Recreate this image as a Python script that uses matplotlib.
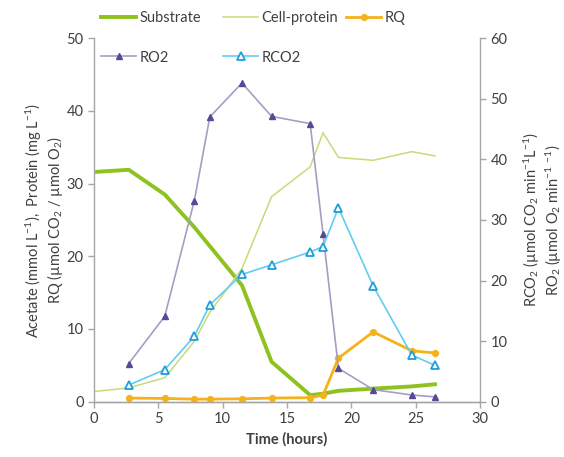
import matplotlib
matplotlib.use("Agg")
import matplotlib.pyplot as plt
from matplotlib.lines import Line2D

plt.rcParams['font.family'] = ['Lato', 'DejaVu Sans']
plt.rcParams['mathtext.fontset'] = 'custom'
plt.rcParams['mathtext.rm'] = 'Lato'
plt.rcParams['mathtext.it'] = 'Lato:italic'
plt.rcParams['mathtext.bf'] = 'Lato:bold'

# ---- data ----
t_all = [0, 2.7, 5.5, 7.8, 9.0, 11.5, 13.8, 16.8, 17.8, 19.0, 21.7, 24.7, 26.5]
substrate = [31.6, 31.9, 28.5, 24.0, 21.4, 16.0, 5.5, 0.9, 1.1, 1.5, 1.8, 2.1, 2.4]
cell_protein = [1.4, 1.9, 3.3, 8.3, 12.3, 18.3, 28.2, 32.3, 37.0, 33.6, 33.2, 34.4, 33.8]

t_r = [2.7, 5.5, 7.8, 9.0, 11.5, 13.8, 16.8, 17.8, 19.0, 21.7, 24.7, 26.5]
rq = [0.5, 0.45, 0.35, 0.35, 0.4, 0.5, 0.55, 0.9, 6.0, 9.6, 7.0, 6.7]
ro2 = [6.3, 14.1, 33.2, 47.0, 52.6, 47.1, 45.9, 27.7, 5.5, 2.0, 1.1, 0.8]
rco2 = [2.75, 5.3, 10.8, 16.0, 21.0, 22.6, 24.7, 25.6, 32.0, 19.1, 7.7, 6.0]

labels = ["Substrate", "Cell-protein", "RQ", "RO2", "RCO2"]

c_sub = "#8DC21F"
c_prot = "#C8DA78"
c_rq = "#F5B21A"
c_ro2_line = "#A39FC4"
c_ro2_mk = "#564A96"
c_rco2_line = "#62CDF2"
c_rco2_mk = "#1E9FDC"
c_axis = "#A6A6A6"
c_text = "#404040"

fig = plt.figure(figsize=(5.64, 4.57), dpi=100)
ax = fig.add_axes([94/564, 1-401.7/457, (480-94)/564, (401.7-38.2)/457])
ax2 = ax.twinx()

l_sub, = ax.plot(t_all, substrate, color=c_sub, lw=2.8, solid_joinstyle='miter')
l_prot, = ax.plot(t_all, cell_protein, color=c_prot, lw=1.1)
l_rq, = ax.plot(t_r, rq, color=c_rq, lw=2.0, marker='o', ms=4.2,
                mfc=c_rq, mec=c_rq)

l_ro2, = ax2.plot(t_r, ro2, color=c_ro2_line, lw=1.2, marker='^', ms=5,
                  mfc=c_ro2_mk, mec=c_ro2_mk)
l_rco2, = ax2.plot(t_r, rco2, color=c_rco2_line, lw=1.2, marker='^', ms=5.5,
                   mfc='white', mec=c_rco2_mk, mew=1.3)

ax.set_xlim(0, 30)
ax.set_ylim(0, 50)
ax2.set_ylim(0, 60)
ax.set_xticks(range(0, 31, 5))
ax.set_yticks(range(0, 51, 10))
ax2.set_yticks(range(0, 61, 10))

for a in (ax, ax2):
    for s in a.spines.values():
        s.set_color(c_axis)
        s.set_linewidth(1.0)
    a.spines['top'].set_visible(False)
    a.tick_params(colors=c_axis, labelcolor=c_text, labelsize=10.5, length=4, width=1.0)
ax2.spines['left'].set_visible(False)
ax.spines['right'].set_visible(False)

ax.set_xlabel("Time (hours)", fontsize=10.5, color=c_text, fontweight='bold', labelpad=4)
ax.set_ylabel("Acetate (mmol L$^{-1}$),  Protein (mg L$^{-1}$)\nRQ (µmol CO$_2$ / µmol O$_2$)",
              fontsize=10.5, color=c_text, labelpad=1, linespacing=1.1)
ax2.set_ylabel("RCO$_2$ (µmol CO$_2$ min$^{-1}$L$^{-1}$)\nRO$_2$ (µmol O$_2$ min$^{-1}$ $^{-1}$)",
               fontsize=10.5, color=c_text, labelpad=10, linespacing=1.1,
               rotation=90)

# legend columns placed like the reference
leg_kw = dict(frameon=False, loc='upper left', fontsize=10.5, handlelength=2.4,
              handletextpad=0.25, borderpad=0, borderaxespad=0, labelspacing=1.75)
for a in (ax, ax2):
    for t in a.get_yticklabels() + a.get_xticklabels():
        t.set_color(c_text)
lg1 = fig.legend([l_sub, l_ro2], [labels[0], labels[3]], bbox_to_anchor=(101/564, 1-11/457), **leg_kw)
lg2 = fig.legend([l_prot, l_rco2], [labels[1], labels[4]], bbox_to_anchor=(223/564, 1-11/457), **leg_kw)
lg3 = fig.legend([l_rq], [labels[2]], bbox_to_anchor=(346/564, 1-11/457), **leg_kw)
for lg in (lg1, lg2, lg3):
    for t in lg.get_texts():
        t.set_color(c_text)

fig.savefig("out.png", dpi=100)
